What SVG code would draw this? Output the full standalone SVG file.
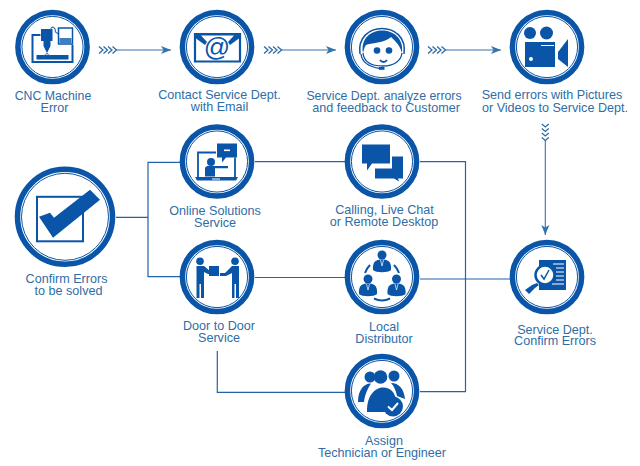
<svg xmlns="http://www.w3.org/2000/svg" width="640" height="466" viewBox="0 0 640 466">
<style>
text{font-family:"Liberation Sans",Arial,sans-serif;font-size:12.6px;fill:#2f6da6;text-anchor:middle}
.n{font-size:12.3px}
.o{fill:#fff;stroke:#0a55a8;stroke-width:5.5}
.i{fill:none;stroke:#0a55a8;stroke-width:1}
.f{fill:#0a55a8;stroke:none}
.w{fill:#fff;stroke:none}
.l{fill:none;stroke:#1f63a8;stroke-width:1.2}
.a{fill:none;stroke:#3474ae;stroke-width:1.1}
.c{fill:none;stroke:#2d6ca6;stroke-width:1.3}
.s{fill:none;stroke:#0a55a8;stroke-width:2}
</style>
<defs>
<g id="ring"><circle class="o" r="34.6"/><circle class="i" r="30.6"/></g>
<marker id="ah" markerWidth="12" markerHeight="10" refX="10" refY="5" orient="auto" markerUnits="userSpaceOnUse"><path d="M0,1 L10,5 L0,9 L2.5,5Z" fill="#3474ae"/></marker>
<g id="chev"><path class="c" d="M0,0l4,3.500l-4,3.500M4.500,0l4,3.500l-4,3.500M9,0l4,3.500l-4,3.500M13.500,0l4,3.500l-4,3.500"/></g>
<g id="chevd"><path class="c" d="M0,0l3.500,3l3.500,-3M0,4.500l3.500,3l3.500,-3M0,9l3.500,3l3.500,-3M0,13.500l3.500,3l3.500,-3"/></g>
<g id="person"><circle class="f" cy="-8" r="4.500"/><path class="f" d="M-9,7C-10,-3 -4,-3.500 0,-3.500C4,-3.500 10,-3 9,7C6,10 -6,10 -9,7Z"/><path d="M-1.500,-3L0,3L1.500,-3" fill="none" stroke="#fff" stroke-width=".7"/></g>
</defs>

<g id="connectors">
<path class="a" marker-end="url(#ah)" d="M116,50H171"/>
<path class="a" marker-end="url(#ah)" d="M281,50H336"/>
<path class="a" marker-end="url(#ah)" d="M445,50H501"/>
<path class="a" marker-end="url(#ah)" d="M545.300,140V235"/>
<use href="#chev" x="99" y="46.500"/>
<use href="#chev" x="264" y="46.500"/>
<use href="#chev" x="428" y="46.500"/>
<use href="#chevd" x="541.800" y="124"/>
<path class="l" d="M116,217.300H148M180,162.300H148V276.700H180"/>
<path class="l" d="M255,161.700H345"/>
<path class="l" d="M255,277.500H345"/>
<path class="l" d="M420,161.700H465.500V391.700H420"/>
<path class="l" d="M420,279H510"/>
<path class="l" d="M217.300,351V392.300H345"/>
</g>

<g id="node-cnc" transform="translate(52.500,47)"><use href="#ring"/>
<path class="s" d="M-12,-12H-20V15H20V-2"/><rect class="f" x="-16" y="8" width="32" height="4.500"/>
<path class="f" d="M-11.500,-18H0V-6H-2V-1L-5.500,6L-9,-1V-6H-11.500Z"/>
<path d="M-5.500,6L-10,10M-5.500,6L-1,10M-5.500,6V9" stroke="#3474ae" stroke-width=".7" fill="none"/>
<path class="a" d="M-2,-17C-1,-22 3,-20 3,-15L6,-13"/>
<rect x="6" y="-19" width="14" height="16" fill="#fff" stroke="#0a55a8" stroke-width="1.500"/><rect x="7" y="-9" width="12" height="6" fill="#3f7fbd"/>
</g>
<g id="node-email" transform="translate(217,47)"><use href="#ring"/>
<path d="M-22,-13H23V14.500H-22Z" fill="none" stroke="#0a55a8" stroke-width="2.200"/>
<path class="f" d="M-23,-14H24V-10L13,-2L11,-5L17,-11.500H-16L-10,-5L-12,-2L-23,-10Z"/>
<text x="0" y="9" style="font-size:26px;fill:#0a55a8">@</text>
</g>
<g id="node-agent" transform="translate(382,47)"><use href="#ring"/>
<path d="M-22,7C-27,-27 27,-27 22,7" fill="none" stroke="#0a55a8" stroke-width="1.500"/>
<path class="f" d="M-19,6C-24,-24 24,-24 20,6C18,-2 13,-6 9,-10C3,-4 -12,-4 -16,-2C-18,0 -18,3 -19,6Z"/>
<path d="M-19,6C-18,16 -10,19 1,19C12,19 19,14 20,6" fill="none" stroke="#0a55a8" stroke-width="1.300"/>
<circle class="f" cx="-5" cy="3.500" r="3.300"/><circle class="f" cx="7" cy="3.500" r="3.300"/>
<path class="s" d="M-2,13C0,15.500 3,15.500 5,13"/>
<path d="M-21,7C-20,16 -12,20 -2,21.500" fill="none" stroke="#0a55a8" stroke-width="1.300"/><rect class="f" x="-3" y="20" width="5.500" height="2.800"/>
</g>
<g id="node-video" transform="translate(547,47)"><use href="#ring"/>
<circle class="f" cx="-17" cy="-14" r="6"/><circle class="f" cx="-0.500" cy="-14" r="6.500"/>
<path class="f" d="M-22,-5H8V20H-22Z"/><path class="f" d="M11,5L21,-8V20L11,12Z"/>
<path d="M-6,-1.500H7" stroke="#fff" stroke-width="1"/><circle class="w" cx="-16" cy="12" r="2"/>
</g>

<g id="node-online" transform="translate(217,161.500)"><use href="#ring"/>
<path d="M-19,16V-9H-1M18,-4V16" fill="none" stroke="#0a55a8" stroke-width="1.800"/><path class="f" d="M-22,15.500H21L19,19H-20Z"/>
<path class="f" d="M0,-18H20V-4H9L5,1V-4H0Z"/><rect class="w" x="7" y="-12" width="6" height="1.600"/>
<circle class="f" cx="-6" cy="0.500" r="4"/><path class="f" d="M-12,15V7C-12,5 -10,4.500 -8,4.500H11V6.800H-2V15Z"/>
<rect class="w" x="-5" y="17" width="8" height="1"/>
</g>
<g id="node-calling" transform="translate(382,161.500)"><use href="#ring"/>
<path class="f" d="M-20,-17H8V2H-10L-15,9V2H-20Z"/>
<path class="f" d="M10,-5H21V17H16L17,20L12,17H-7V7H10Z"/>
</g>
<g id="node-confirm" transform="translate(65,216.800)"><circle class="o" r="47.500" stroke-width="5"/><circle class="i" r="43.500"/>
<rect x="-28" y="-20" width="46" height="44.500" fill="none" stroke="#0a55a8" stroke-width="2"/>
<path class="f" d="M-26,0L-15,-4L-11,1L25,-27L35,-17L-12,21Z" stroke="#fff" stroke-width="1"/>
</g>
<g id="node-door" transform="translate(217,277)"><use href="#ring"/>
<circle class="f" cx="-17" cy="-15.700" r="3.800"/><circle class="f" cx="18" cy="-15.700" r="3.800"/>
<path class="f" d="M-20.500,-11H-13L-7,-6H-3V-3H-9L-13,-5V21H-16V7H-17.500V21H-20.500Z"/>
<path class="f" d="M22,-11H15L8,-4H3V-1H9L15,-4V21H17.500V7H19V21H22Z"/>
<rect class="f" x="-8" y="-11" width="10" height="10"/>
</g>
<g id="node-local" transform="translate(382,277)"><use href="#ring"/>
<use href="#person" y="-14"/><use href="#person" x="-14" y="10"/><use href="#person" x="14.500" y="10"/>
<path class="s" d="M-8,21.500C-3,24 3,24 8,21.500M-17,-4C-16,-7 -14,-10 -12,-12M17,-4C16,-7 14,-10 12,-12" stroke-width="1.300"/>
</g>
<g id="node-service" transform="translate(547,277)"><use href="#ring"/>
<path class="f" d="M-8,-17H19V13H-8Z"/><path d="M6,-13H17M9,-9H17M9,-5H17M9,-1H17M9,3H17M5,7H17" stroke="#fff" stroke-width="1"/>
<circle r="9.500" cx="-2" cy="-2" fill="#fff" stroke="#0a55a8" stroke-width="2.500"/>
<path d="M-6,-2L-3,2L2,-7" fill="none" stroke="#0a55a8" stroke-width="1.500"/>
<path class="f" d="M-10,6L-8,8L-12,11L-18,17L-22,13L-15,8Z"/>
</g>
<g id="node-assign" transform="translate(382,391)"><use href="#ring"/>
<circle class="f" cx="-12" cy="-14" r="5.500"/><circle class="f" cx="12" cy="-15" r="5.500"/><circle class="f" cx="-1.500" cy="-14" r="6.800" stroke="#fff"/>
<path class="f" d="M-24,11C-24,-2 -17,-8 -11,-7.500C-14,-3 -17,3 -18,11Z"/><path class="f" d="M9,-8C17,-8 22,-2 23,8L15,5C14,0 12,-5 9,-8Z"/>
<path class="f" d="M-15,21C-16,-10 15,-10 14,12L6,21Z"/>
<circle class="f" cx="11" cy="15.500" r="10" stroke="#fff" stroke-width="1.500"/>
<path d="M6,15.500L10,19L16,12" fill="none" stroke="#fff" stroke-width="2"/>
</g>

<g id="labels">
<text><tspan class="n" x="53" y="100">CNC Machine</tspan><tspan x="54.500" y="112">Error</tspan></text>
<text><tspan x="219.500" y="99">Contact Service Dept.</tspan><tspan x="219.500" y="111">with Email</tspan></text>
<text><tspan class="n" x="384" y="100">Service Dept. analyze errors</tspan><tspan x="386" y="112">and feedback to Customer</tspan></text>
<text><tspan x="552" y="99">Send errors with Pictures</tspan><tspan x="555" y="112">or Videos to Service Dept.</tspan></text>
<text><tspan x="215" y="215">Online Solutions</tspan><tspan x="215" y="227">Service</tspan></text>
<text><tspan x="384.500" y="214">Calling, Live Chat</tspan><tspan x="384" y="226">or Remote Desktop</tspan></text>
<text><tspan x="66.500" y="283">Confirm Errors</tspan><tspan x="68.500" y="295">to be solved</tspan></text>
<text><tspan x="219" y="330">Door to Door</tspan><tspan x="219" y="342">Service</tspan></text>
<text><tspan x="384" y="331">Local</tspan><tspan x="384" y="343">Distributor</tspan></text>
<text><tspan x="555" y="334">Service Dept.</tspan><tspan x="555" y="345">Confirm Errors</tspan></text>
<text><tspan x="384" y="445">Assign</tspan><tspan x="382" y="457">Technician or Engineer</tspan></text>
</g>
</svg>
